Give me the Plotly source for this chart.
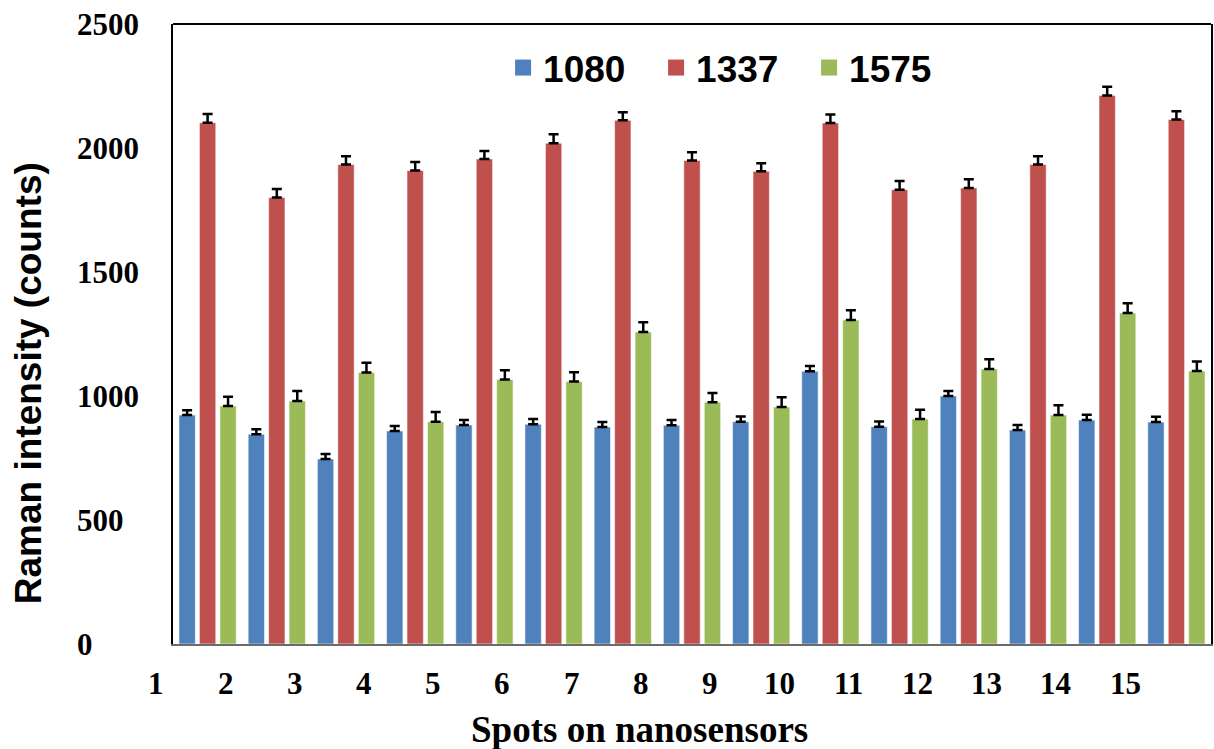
import plotly.graph_objects as go

# Raman peak intensities (counts) at each of 15 spots on the nanosensors
spots = list(range(1, 16))
tick_labels = [str(s) for s in spots]
y_ticks = [0, 500, 1000, 1500, 2000, 2500]

peak_1080 = [923, 846, 746, 859, 883, 886, 875, 882, 896, 1100, 876, 1000, 863, 903, 895]
peak_1337 = [2102, 1800, 1933, 1909, 1956, 2019, 2112, 1950, 1906, 2101, 1832, 1839, 1933, 2212, 2115]
peak_1575 = [960, 980, 1095, 896, 1067, 1058, 1258, 975, 956, 1306, 907, 1109, 923, 1335, 1101]

err_1080 = [20, 20, 20, 20, 20, 21, 20, 21, 21, 21, 21, 20, 20, 21, 21]
err_1337 = [35, 35, 34, 35, 32, 36, 32, 33, 33, 34, 35, 35, 34, 35, 33]
err_1575 = [37, 40, 39, 39, 37, 38, 39, 37, 39, 40, 38, 39, 40, 39, 38]

series = [
    ("1080", peak_1080, err_1080, "#4F81BD"),
    ("1337", peak_1337, err_1337, "#C0504D"),
    ("1575", peak_1575, err_1575, "#9BBB59"),
]

SERIF = "Liberation Serif, Times New Roman, serif"
SANS = "Liberation Sans, Arial, sans-serif"
X_RANGE = [0.5, 15.5]

fig = go.Figure()
for name, vals, errs, color in series:
    fig.add_trace(go.Bar(
        x=spots, y=vals, name=name, showlegend=False,
        marker=dict(color=color, line=dict(color="rgba(255,255,255,0.55)", width=1)),
        error_y=dict(type="data", symmetric=False, array=errs,
                     arrayminus=[0] * len(errs), color="black",
                     thickness=2.5, width=5),
    ))
    # legend entry with a larger square swatch
    fig.add_trace(go.Scatter(
        x=[None], y=[None], mode="markers", name=name,
        marker=dict(symbol="square", size=19, color=color),
    ))

def to_paper_x(v):
    return (v - X_RANGE[0]) / (X_RANGE[1] - X_RANGE[0])

annotations = []
# spot labels along the bottom, set a little left of each group
for s, lab in zip(spots, tick_labels):
    annotations.append(dict(
        x=to_paper_x(s - 0.74), y=-0.0645, xref="paper", yref="paper",
        text=lab, showarrow=False, xanchor="center", yanchor="middle",
        font=dict(family=SERIF, size=31, color="black", weight="bold"),
    ))
# y tick labels, left aligned
for v in y_ticks:
    annotations.append(dict(
        x=-0.0942, y=v, xref="paper", yref="y",
        text=str(v), showarrow=False, xanchor="left", yanchor="middle",
        font=dict(family=SERIF, size=31, color="black", weight="bold"),
    ))
annotations.append(dict(
    x=0.449, y=-0.138, xref="paper", yref="paper",
    text="Spots on nanosensors", showarrow=False, xanchor="center", yanchor="middle",
    font=dict(family=SERIF, size=37, color="black", weight="bold"),
))
annotations.append(dict(
    x=-0.1385, y=0.421, xref="paper", yref="paper", textangle=-90,
    text="Raman intensity (counts)", showarrow=False, xanchor="center", yanchor="middle",
    font=dict(family=SANS, size=37, color="black", weight="bold"),
))

fig.update_layout(
    width=1214, height=749,
    margin=dict(l=173, r=1, t=24, b=105),
    paper_bgcolor="white", plot_bgcolor="white",
    barmode="group", bargap=0.113, bargroupgap=0.2,
    showlegend=True,
    legend=dict(
        orientation="h", x=0.318, y=0.929, xanchor="left", yanchor="middle",
        font=dict(family=SANS, size=37, color="black", weight="bold"),
        bgcolor="rgba(0,0,0,0)", entrywidth=108, entrywidthmode="pixels",
        itemclick=False,
    ),
    xaxis=dict(
        range=X_RANGE, showticklabels=False, ticks="", showgrid=False,
        zeroline=False, showline=True, linecolor="#6b6b6b", linewidth=2,
    ),
    yaxis=dict(
        range=[0, 2500], tickvals=y_ticks, showticklabels=False, ticks="",
        showgrid=False, zeroline=False, showline=True, linecolor="black",
        linewidth=2, mirror=True,
    ),
    annotations=annotations,
    shapes=[dict(type="line", xref="paper", yref="paper", x0=0, x1=1, y0=1, y1=1,
                 line=dict(color="black", width=2))],
)

fig.write_html("out.html")
